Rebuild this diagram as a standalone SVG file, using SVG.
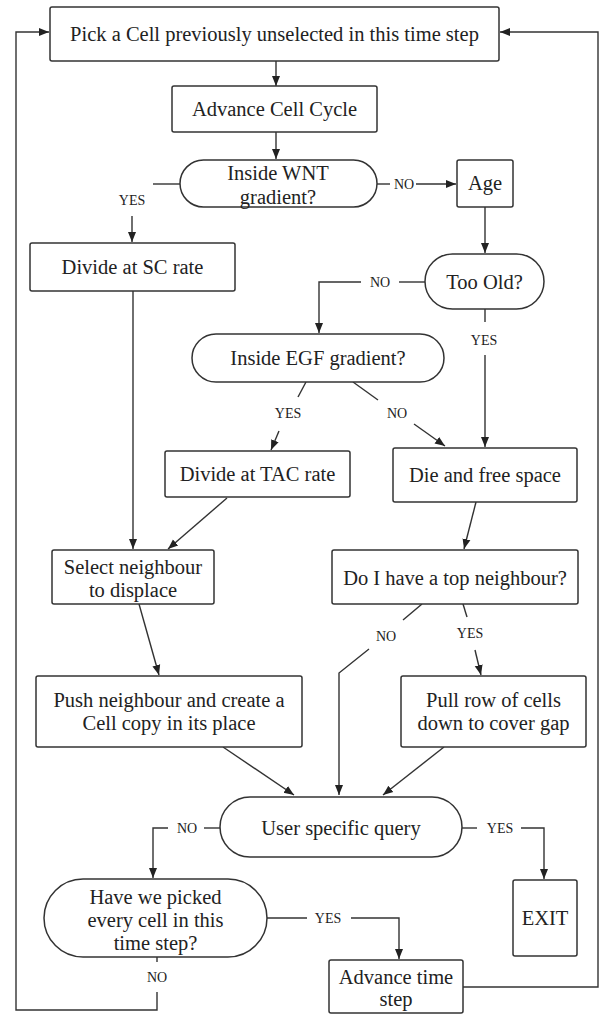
<svg xmlns="http://www.w3.org/2000/svg" width="599" height="1015" viewBox="0 0 599 1015">
<style>
.box{fill:#fff;stroke:#333;stroke-width:1.5}
.t{font-family:"Liberation Serif","Times New Roman",serif;font-size:20.5px;fill:#222;text-anchor:middle}
.l{font-family:"Liberation Serif","Times New Roman",serif;font-size:14px;fill:#222;text-anchor:middle}
.c{fill:none;stroke:#333;stroke-width:1.4}
.a{fill:none;stroke:#333;stroke-width:1.4;marker-end:url(#ah)}
</style>
<defs>
<marker id="ah" viewBox="0 0 10 10" refX="10" refY="5" markerWidth="10" markerHeight="10" markerUnits="userSpaceOnUse" orient="auto">
<path d="M0,1 L10,5 L0,9 z" fill="#222"/>
</marker>
</defs>
<rect width="599" height="1015" fill="#fff"/>

<g id="connectors">
<line class="a" x1="276" y1="61" x2="276" y2="86"/>
<line class="a" x1="276" y1="132" x2="276" y2="159"/>
<polyline class="c" points="180,184 153,184"/>
<line class="a" x1="132" y1="216" x2="132" y2="242"/>
<line class="c" x1="377" y1="184" x2="390" y2="184"/>
<line class="a" x1="416" y1="184" x2="456" y2="184"/>
<line class="a" x1="485" y1="207" x2="485" y2="253"/>
<line class="c" x1="425" y1="282" x2="399" y2="282"/>
<polyline class="a" points="361,282 319,282 319,333"/>
<line class="c" x1="485" y1="309" x2="485" y2="322"/>
<line class="a" x1="485" y1="355" x2="485" y2="447"/>
<line class="c" x1="306" y1="382" x2="298" y2="397"/>
<line class="a" x1="279" y1="431" x2="271" y2="450"/>
<line class="c" x1="353" y1="382" x2="378" y2="400"/>
<line class="a" x1="414" y1="424" x2="445" y2="446"/>
<line class="a" x1="133" y1="291" x2="133" y2="549"/>
<line class="a" x1="227" y1="498" x2="168" y2="549"/>
<line class="a" x1="476" y1="502" x2="464" y2="549"/>
<line class="a" x1="139" y1="604" x2="159" y2="675"/>
<line class="c" x1="422" y1="604" x2="403" y2="620"/>
<polyline class="a" points="369,649 339,673 339,795"/>
<line class="c" x1="463" y1="604" x2="467" y2="617"/>
<line class="a" x1="475" y1="650" x2="481" y2="675"/>
<line class="a" x1="223" y1="747" x2="294" y2="795"/>
<line class="a" x1="444" y1="747" x2="383" y2="795"/>
<line class="c" x1="220" y1="828" x2="204" y2="828"/>
<polyline class="a" points="168,828 153,828 153,878"/>
<line class="c" x1="462" y1="828" x2="477" y2="828"/>
<polyline class="a" points="521,828 544,828 544,879"/>
<line class="c" x1="267" y1="918" x2="307" y2="918"/>
<polyline class="a" points="351,918 399,918 399,959"/>
<line class="c" x1="157" y1="957" x2="157" y2="962"/>
<polyline class="a" points="157,992 157,1010 16,1010 16,32 49,32"/>
<polyline class="a" points="463,987 598,987 598,32 500,32"/>
<text class="l" x="132" y="205">YES</text>
<text class="l" x="404" y="189">NO</text>
<text class="l" x="380" y="287">NO</text>
<text class="l" x="484" y="345">YES</text>
<text class="l" x="288" y="418">YES</text>
<text class="l" x="397" y="418">NO</text>
<text class="l" x="386" y="641">NO</text>
<text class="l" x="470" y="638">YES</text>
<text class="l" x="187" y="833">NO</text>
<text class="l" x="500" y="833">YES</text>
<text class="l" x="328" y="923">YES</text>
<text class="l" x="157" y="982">NO</text>
</g>

<g id="pick"><rect class="box" x="50" y="7" width="449" height="54" rx="2"/><text class="t" x="274.5" y="41">Pick a Cell previously unselected in this time step</text></g>
<g id="advance-cycle"><rect class="box" x="172" y="86" width="205" height="46" rx="2"/><text class="t" x="274.5" y="116">Advance Cell Cycle</text></g>
<g id="wnt"><rect class="box" x="180" y="160" width="197" height="47" rx="23.5"/><text class="t" x="278" y="180">Inside WNT</text><text class="t" x="278" y="204">gradient?</text></g>
<g id="age"><rect class="box" x="457" y="160" width="56" height="47" rx="2"/><text class="t" x="485" y="190">Age</text></g>
<g id="sc"><rect class="box" x="30" y="243" width="205" height="48" rx="2"/><text class="t" x="132.5" y="274">Divide at SC rate</text></g>
<g id="too-old"><rect class="box" x="425" y="254" width="119" height="55" rx="27.5"/><text class="t" x="484.5" y="289">Too Old?</text></g>
<g id="egf"><rect class="box" x="192" y="334" width="252" height="48" rx="24"/><text class="t" x="318" y="365">Inside EGF gradient?</text></g>
<g id="tac"><rect class="box" x="165" y="451" width="185" height="46" rx="2"/><text class="t" x="257.5" y="481">Divide at TAC rate</text></g>
<g id="die"><rect class="box" x="393" y="448" width="184" height="54" rx="2"/><text class="t" x="485" y="482">Die and free space</text></g>
<g id="select"><rect class="box" x="52" y="550" width="162" height="54" rx="2"/><text class="t" x="133" y="574">Select neighbour</text><text class="t" x="133" y="597">to displace</text></g>
<g id="top-neighbour"><rect class="box" x="332" y="550" width="246" height="54" rx="2"/><text class="t" x="455" y="585">Do I have a top neighbour?</text></g>
<g id="push"><rect class="box" x="36" y="676" width="266" height="71" rx="2"/><text class="t" x="169" y="707">Push neighbour and create a</text><text class="t" x="169" y="730">Cell copy in its place</text></g>
<g id="pull"><rect class="box" x="401" y="676" width="185" height="71" rx="2"/><text class="t" x="493.5" y="707">Pull row of cells</text><text class="t" x="493.5" y="730">down to cover gap</text></g>
<g id="user-query"><rect class="box" x="220" y="797" width="242" height="60" rx="30"/><text class="t" x="341" y="835">User specific query</text></g>
<g id="picked-all"><rect class="box" x="44" y="879" width="223" height="78" rx="39"/><text class="t" x="155.5" y="904">Have we picked</text><text class="t" x="155.5" y="927">every cell in this</text><text class="t" x="155.5" y="950">time step?</text></g>
<g id="exit"><rect class="box" x="513" y="880" width="64" height="76" rx="2"/><text class="t" x="545" y="925">EXIT</text></g>
<g id="advance-time"><rect class="box" x="329" y="960" width="134" height="53" rx="2"/><text class="t" x="396" y="984">Advance time</text><text class="t" x="396" y="1006">step</text></g>
</svg>
